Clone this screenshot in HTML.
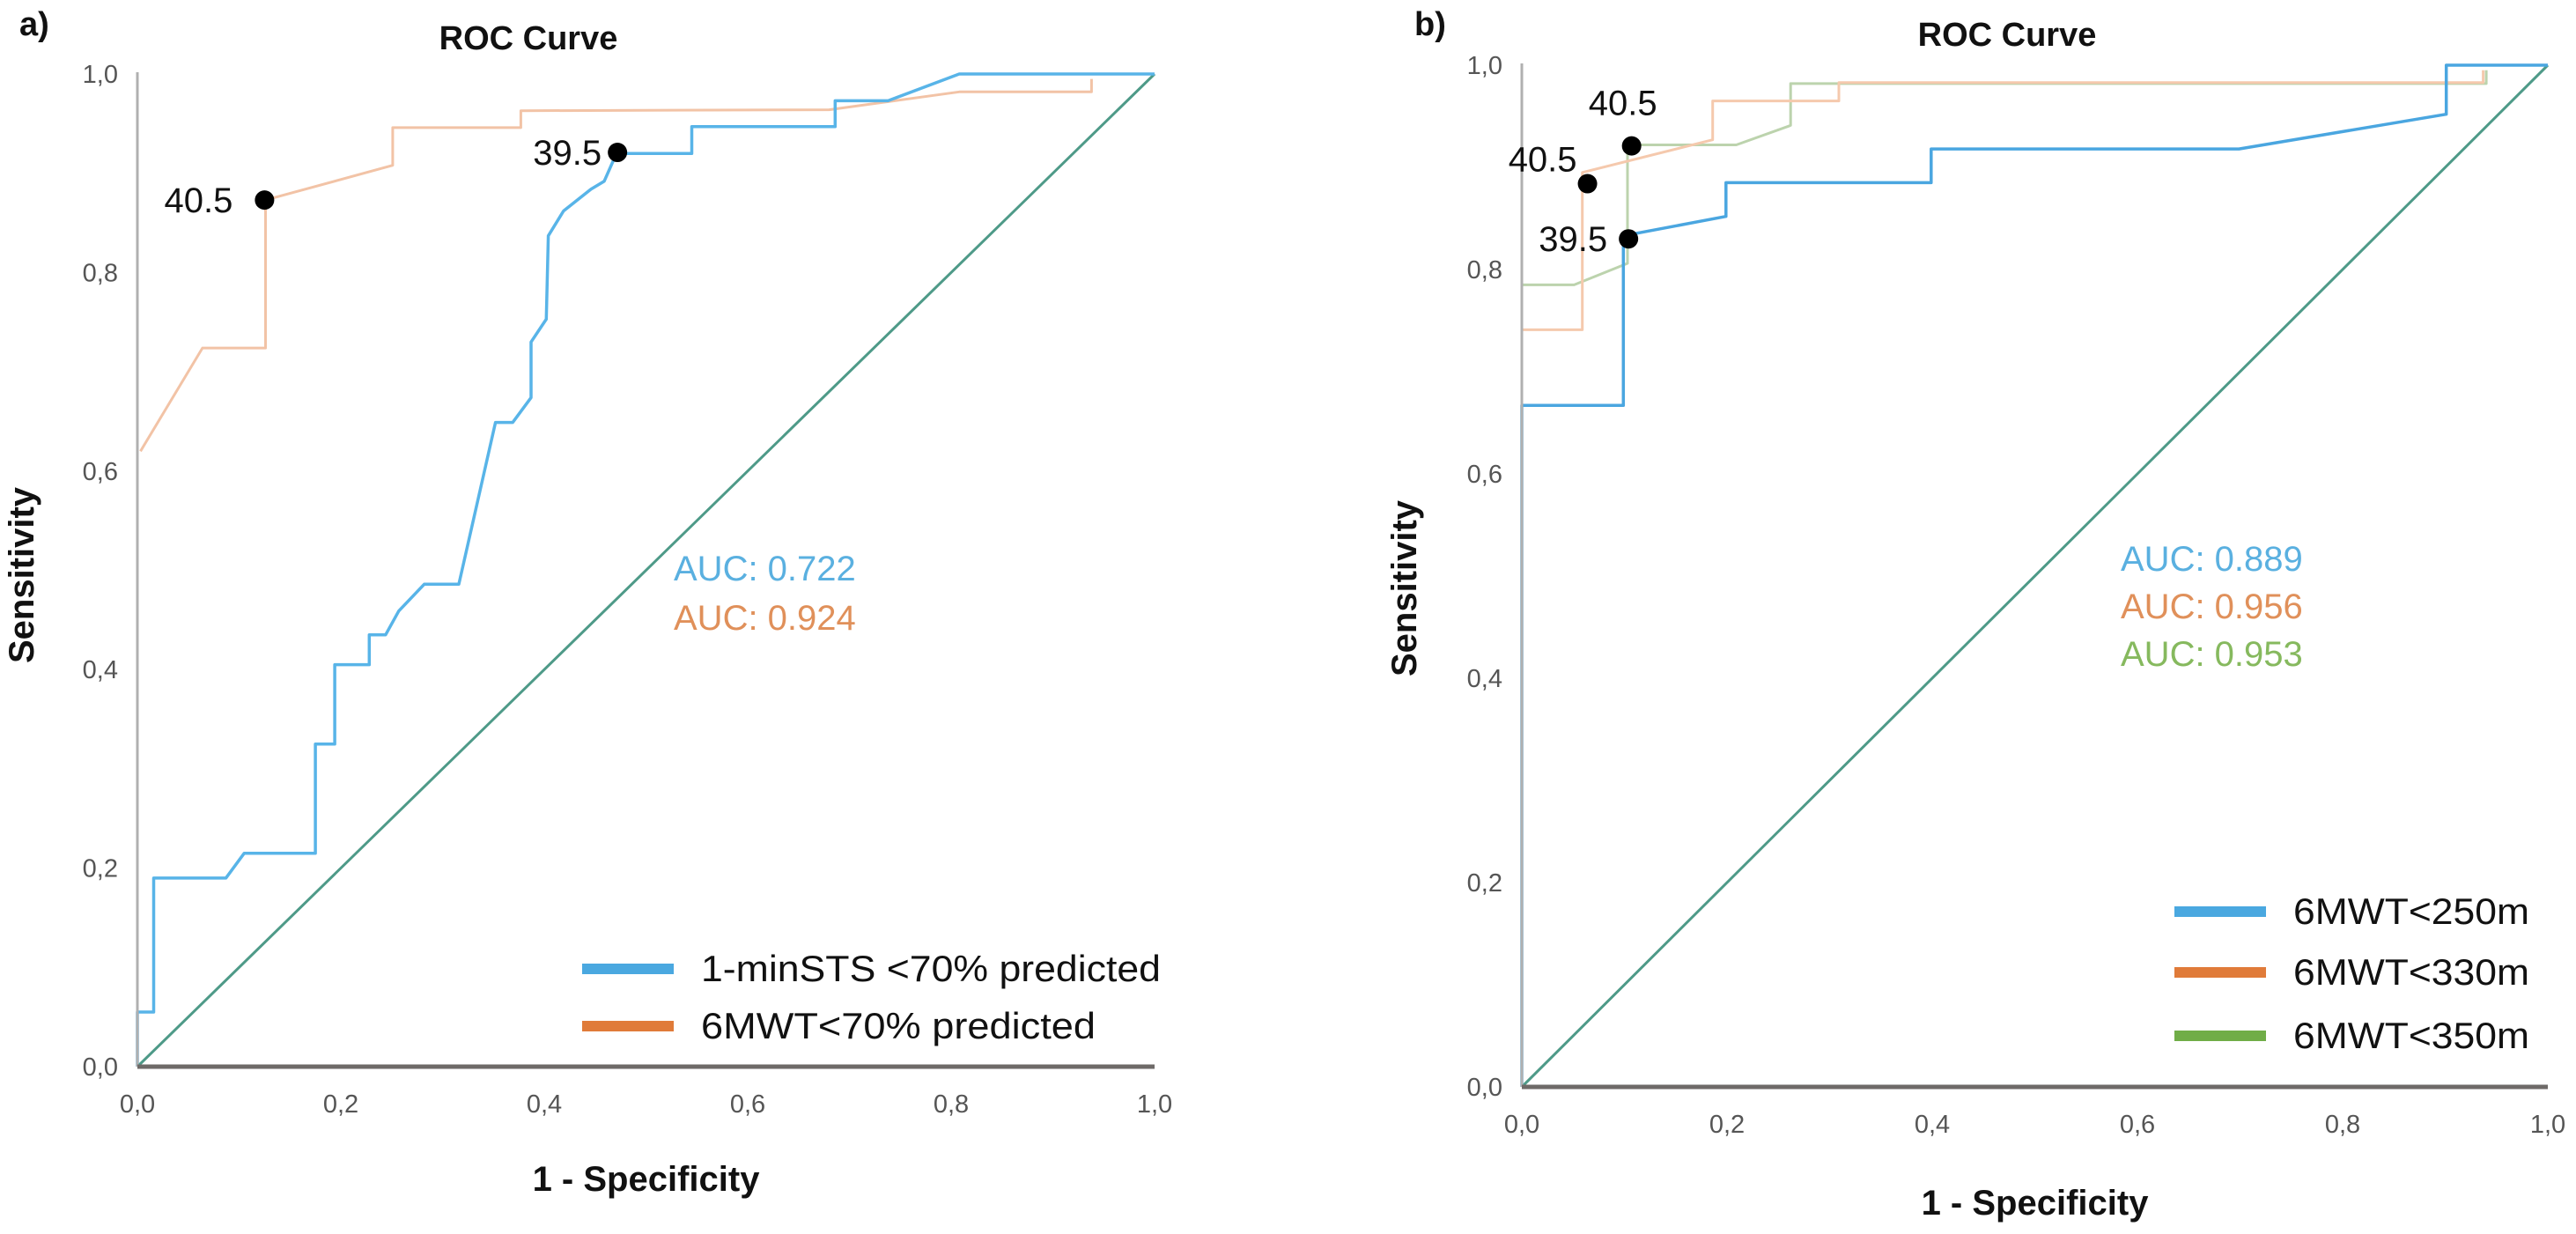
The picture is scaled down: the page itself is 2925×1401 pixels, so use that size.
<!DOCTYPE html>
<html><head><meta charset="utf-8"><style>
html,body{margin:0;padding:0;background:#fff;}
svg{display:block;}
text{font-family:"Liberation Sans",sans-serif;}
</style></head><body>
<svg id="chart" width="2925" height="1401" viewBox="0 0 2925 1401" xmlns="http://www.w3.org/2000/svg">
<rect width="2925" height="1401" fill="#fff"/>
<g id="pa"></g>
<g id="pb"></g>
</svg>
<script>
const tickLabels = ["0,0","0,2","0,4","0,6","0,8","1,0"];
const tickValues = [0,0.2,0.4,0.6,0.8,1.0];
// Panel a
const aBlueX = [0,0,0.016,0.016,0.087,0.105,0.175,0.175,0.194,0.194,0.228,0.228,0.244,0.257,0.282,0.316,0.352,0.369,0.387,0.387,0.402,0.404,0.419,0.446,0.459,0.471,0.545,0.545,0.686,0.686,0.738,0.808,1];
const aBlueY = [0,0.055,0.055,0.19,0.19,0.215,0.215,0.325,0.325,0.405,0.405,0.435,0.435,0.459,0.486,0.486,0.649,0.649,0.674,0.73,0.753,0.837,0.862,0.884,0.892,0.92,0.92,0.947,0.947,0.973,0.973,1,1];
const aOrangeX = [0.003,0.064,0.126,0.126,0.251,0.251,0.377,0.377,0.68,0.808,0.938,0.938];
const aOrangeY = [0.62,0.724,0.724,0.873,0.908,0.946,0.946,0.963,0.964,0.982,0.982,0.995];
const aCutX = [0.125,0.472];
const aCutY = [0.873,0.921];
const aCutLabels = ["40.5","39.5"];
const aAUC = ["AUC: 0.722","AUC: 0.924"];
const aLegend = ["1-minSTS <70% predicted","6MWT<70% predicted"];
// Panel b
const bBlueX = [0,0,0.099,0.099,0.199,0.199,0.399,0.399,0.699,0.901,0.901,1];
const bBlueY = [0,0.667,0.667,0.833,0.852,0.885,0.885,0.918,0.918,0.952,1,1];
const bOrangeX = [0,0.059,0.059,0.186,0.186,0.309,0.309,0.937,0.937];
const bOrangeY = [0.741,0.741,0.895,0.927,0.965,0.965,0.983,0.983,0.995];
const bGreenX = [0,0.051,0.103,0.103,0.209,0.262,0.262,0.307,0.94,0.94];
const bGreenY = [0.785,0.785,0.806,0.922,0.922,0.941,0.982,0.982,0.982,0.995];
const bCutX = [0.107,0.064,0.104];
const bCutY = [0.921,0.884,0.830];
const bCutLabels = ["40.5","40.5","39.5"];
const bAUC = ["AUC: 0.889","AUC: 0.956","AUC: 0.953"];
const bLegend = ["6MWT<250m","6MWT<330m","6MWT<350m"];

const NS="http://www.w3.org/2000/svg";
function mk(parent,tag,attrs,txt){const e=document.createElementNS(NS,tag);for(const k in attrs)e.setAttribute(k,attrs[k]);if(txt!==undefined)e.textContent=txt;parent.appendChild(e);return e;}

function drawPanel(g,P){
  const sx=v=>P.x0+v*(P.x1-P.x0), sy=v=>P.y0-v*(P.y0-P.y1);
  const d=mk(g,'line',{x1:sx(0),y1:sy(0),x2:sx(1),y2:sy(1),stroke:'#4e9a88','stroke-width':3});
  
  
  P.series.forEach(s=>{
    const pts=s.x.map((v,i)=>sx(v).toFixed(1)+','+sy(s.y[i]).toFixed(1)).join(' ');
    const pl=mk(g,'polyline',{points:pts,fill:'none',stroke:s.color,'stroke-width':s.w,'stroke-linejoin':'round'});
    
    
  });
  const ya=mk(g,'line',{x1:P.x0,y1:sy(0),x2:P.x0,y2:sy(1)-2,stroke:'#b0b0b0','stroke-width':3});
  
  
  const xa=mk(g,'line',{x1:P.x0,y1:P.y0,x2:P.x1,y2:P.y0,stroke:'#6e6a68','stroke-width':5});
  
  
  tickValues.forEach((v,i)=>{
    const t=mk(g,'text',{x:P.x0-22,y:sy(v)+10,'text-anchor':'end','font-size':29,fill:'#555'},tickLabels[i]);
    
    
    const u=mk(g,'text',{x:sx(v),y:P.y0+52,'text-anchor':'middle','font-size':29,fill:'#555'},tickLabels[i]);
    
    
  });
  P.cx.forEach((v,i)=>{
    const c=mk(g,'circle',{cx:sx(v),cy:sy(P.cy[i]),r:11,fill:'#000'});
    
    
    const o=P.labOff[i];
    const t=mk(g,'text',{x:sx(v)+o[0],y:sy(P.cy[i])+o[1],'text-anchor':o[2],'font-size':40,fill:'#111'},P.cl[i]);
    
    
  });
  P.auc.forEach((s,i)=>{
    const t=mk(g,'text',{x:P.aucX,y:P.aucY+i*P.aucDy,'font-size':40,fill:P.aucC[i]},s);
    
    
  });
  P.leg.forEach((s,i)=>{
    const ly=P.legY[i];
    const r=mk(g,'rect',{x:P.legX,y:ly-6,width:104,height:12,fill:P.legC[i]});
    
    
    const t=mk(g,'text',{x:P.legX+135,y:ly+14,'font-size':42,fill:'#111',textLength:P.legW[i],lengthAdjust:'spacingAndGlyphs'},s);
    
    
  });
  const tt=mk(g,'text',{x:P.titleX,y:P.titleY,'text-anchor':'middle','font-size':38,'font-weight':'bold',fill:'#111'},'ROC Curve');
  
  
  const pl=mk(g,'text',{x:P.panX,y:P.panY,'font-size':38,'font-weight':'bold',fill:'#111'},P.pan);
  
  
  const xt=mk(g,'text',{x:(P.x0+P.x1)/2,y:P.xtY,'text-anchor':'middle','font-size':40,'font-weight':'bold',fill:'#111'},'1 - Specificity');
  
  
  const yt=mk(g,'text',{x:0,y:0,'text-anchor':'middle','font-size':40,'font-weight':'bold',fill:'#111',transform:`translate(${P.ytX},${P.ytY}) rotate(-90)`},'Sensitivity');
  
  
}

drawPanel(document.getElementById('pa'),{
  x0:156,x1:1311,y0:1211,y1:84,
  series:[{x:aOrangeX,y:aOrangeY,color:'#f2c3a6',w:3,name:'curve-6mwt-70'},{x:aBlueX,y:aBlueY,color:'#58b4e8',w:3.5,name:'curve-1minsts-70'}],
  cx:aCutX,cy:aCutY,cl:aCutLabels,labOff:[[-36,14,'end'],[-18,14,'end']],
  auc:aAUC,aucC:['#5ab0e0','#e0905a'],aucX:765,aucY:659,aucDy:56,
  leg:aLegend,legC:['#4aa8e0','#e07b39'],legX:661,legY:[1100,1165],legW:[522,448],
  titleX:600,titleY:56,pan:'a)',panX:22,panY:40,xtY:1352,ytX:38,ytY:653
});
drawPanel(document.getElementById('pb'),{
  x0:1728,x1:2893,y0:1234,y1:74,
  series:[{x:bGreenX,y:bGreenY,color:'#bcd3ad',w:3,name:'curve-6mwt-350'},{x:bOrangeX,y:bOrangeY,color:'#f5c9ad',w:3,name:'curve-6mwt-330'},{x:bBlueX,y:bBlueY,color:'#4aa6e0',w:3.5,name:'curve-6mwt-250'}],
  cx:bCutX,cy:bCutY,cl:bCutLabels,labOff:[[-10,-35,'middle'],[-12,-14,'end'],[-24,14,'end']],
  auc:bAUC,aucC:['#5ab0e0','#e0905a','#86b95e'],aucX:2408,aucY:648,aucDy:54,
  leg:bLegend,legC:['#4aa8e0','#e07b39','#70ad47'],legX:2469,legY:[1035,1104,1176],legW:[268,268,268],
  titleX:2279,titleY:52,pan:'b)',panX:1606,panY:40,xtY:1379,ytX:1608,ytY:668
});
</script>
</body></html>
